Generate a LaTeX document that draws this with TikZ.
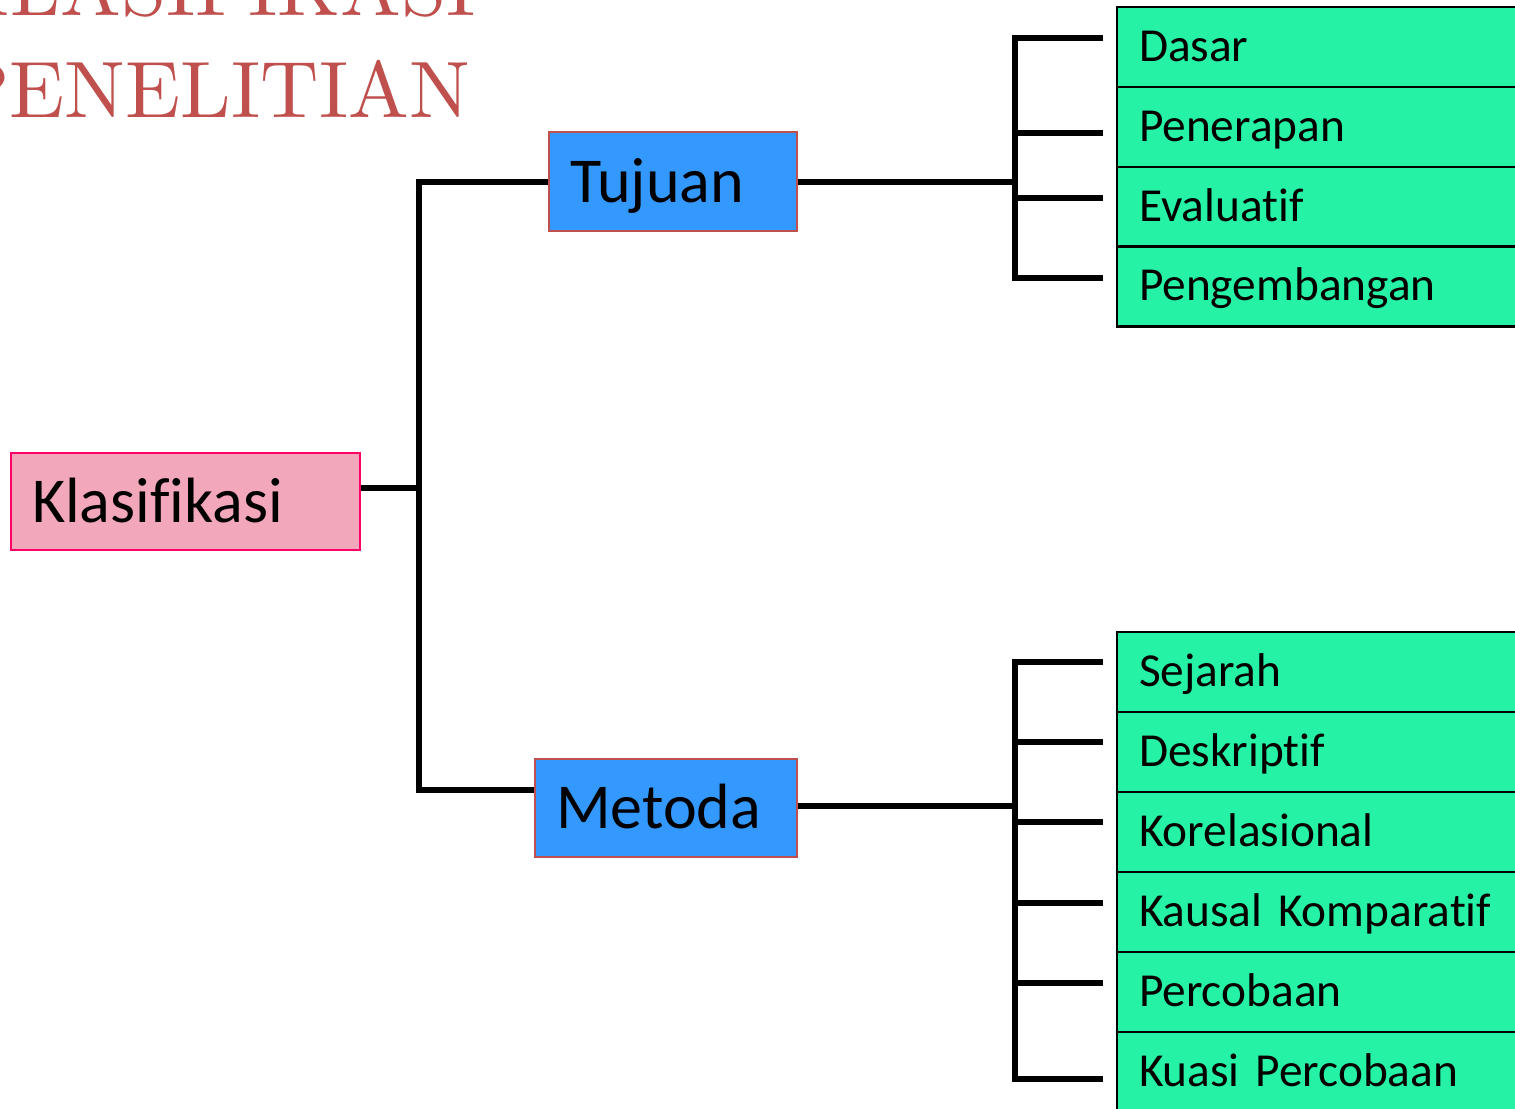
\documentclass[tikz,border=0pt]{standalone}
\usepackage{fontspec}
\newfontfamily\carlito[Ligatures={NoCommon,NoContextual}]{Carlito}
\newfontfamily\titlefont{lmroman10-regular.otf}
\definecolor{titlered}{HTML}{C0504D}
\definecolor{pinkfill}{HTML}{F2A7BA}
\definecolor{pinkline}{HTML}{FF0066}
\definecolor{bluefill}{HTML}{3399FF}
\definecolor{bluebord}{HTML}{C0504D}
\definecolor{greenfill}{HTML}{26F2A6}
\begin{document}
\begin{tikzpicture}[x=0.75pt,y=-0.75pt,
  conn/.style={line width=4.3pt,black},
  bigbox/.style={rectangle,line width=1.5pt,inner xsep={21*0.75pt},inner ysep=0pt,
    font=\carlito\fontsize{48pt}{50pt}\selectfont,align=left,text height=36pt,text depth=5pt},
  leafbox/.style={rectangle,draw=black,line width=1.6pt,fill=greenfill,
    minimum width={420*0.75pt},minimum height={80*0.75pt},inner ysep=0pt,
    inner xsep={22*0.75pt},text width={376*0.75pt},align=left,
    font=\carlito\fontsize{35.5pt}{38pt}\selectfont,text height=26pt,text depth=5pt},
  titletext/.style={text=titlered,font=\titlefont\fontsize{60pt}{62pt}\selectfont,inner sep=0pt}]
\clip (0,0) rectangle (1515,1108);
\fill[white] (0,0) rectangle (1515,1108);
% title
\node[titletext,anchor=base east] (t1) at (476,15) {\scalebox{1.012}[1]{KLASIFIKASI}};
\node[titletext,anchor=base east] (t2) at (470,117) {\scalebox{1.012}[1]{PENELITIAN}};
% main boxes
\node[bigbox,draw=pinkline,fill=pinkfill,minimum width={349*0.75pt},minimum height={97*0.75pt},
  text width={307*0.75pt}] (k) at (185.5,501.5) {Klasifikasi};
\node[bigbox,draw=bluebord,fill=bluefill,minimum width={248*0.75pt},minimum height={99*0.75pt},
  text width={206*0.75pt}] (t) at (673,181.5) {Tujuan};
\node[bigbox,draw=bluebord,fill=bluefill,minimum width={262*0.75pt},minimum height={98*0.75pt},
  text width={220*0.75pt}] (m) at (666,808) {Metoda};
% leaf boxes top
\node[leafbox] (d1) at (1327,47) {Dasar};
\node[leafbox] (d2) at (1327,127) {Penerapan};
\node[leafbox] (d3) at (1327,207) {Evaluatif};
\node[leafbox] (d4) at (1327,286.5) {Pengembangan};
% leaf boxes bottom
\node[leafbox] (e1) at (1327,672) {Sejarah};
\node[leafbox] (e2) at (1327,752) {Deskriptif};
\node[leafbox] (e3) at (1327,832) {Korelasional};
\node[leafbox] (e4) at (1327,912) {Kausal Komparatif};
\node[leafbox] (e5) at (1327,992) {Percobaan};
\node[leafbox] (e6) at (1327,1072) {Kuasi Percobaan};
% connectors from Klasifikasi
\coordinate (jk) at (419,488);
\draw[conn] (k.east|-jk) -- (jk);
\draw[conn] (t.west|-0,182) -| (jk) |- (m.west|-0,790);
% Tujuan group
\coordinate (jt) at (1015,182);
\draw[conn] (t.east|-jt) -- (jt);
\draw[conn] (1103,38) -| (jt) |- (1103,278);
\draw[conn] (jt|-0,133) -- (1103,133);
\draw[conn] (jt|-0,198) -- (1103,198);
% Metoda group
\coordinate (jm) at (1015,806);
\draw[conn] (m.east|-jm) -- (jm);
\draw[conn] (1103,662) -| (jm) |- (1103,1079);
\draw[conn] (jm|-0,742) -- (1103,742);
\draw[conn] (jm|-0,822) -- (1103,822);
\draw[conn] (jm|-0,903) -- (1103,903);
\draw[conn] (jm|-0,983) -- (1103,983);
\end{tikzpicture}
\end{document}
